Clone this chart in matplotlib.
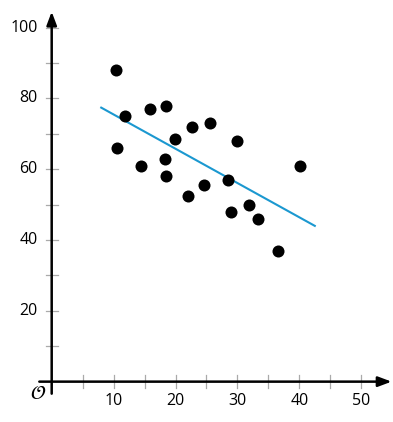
import matplotlib.pyplot as plt
import numpy as np

plt.rcParams['font.family'] = ['Open Sans', 'DejaVu Sans']

# data
x_vals = [10.4, 11.9, 10.5, 15.9, 18.4, 14.5, 18.3, 18.5, 19.9, 22.6,
          22.0, 25.6, 29.9, 40.1, 28.5, 24.6, 31.9, 29.0, 33.4, 36.6]
y_vals = [88.0, 75.0, 66.0, 77.0, 78.0, 61.0, 63.0, 58.0, 68.5, 72.0,
          52.5, 73.0, 68.0, 61.0, 57.0, 55.5, 50.0, 48.0, 46.0, 37.0]
fit_x = [8.0, 42.5]
fit_y = [77.4, 44.0]
x_ticks = [5, 10, 15, 20, 25, 30, 35, 40, 45, 50]
x_labels = [10, 20, 30, 40, 50]
y_ticks = [10, 20, 30, 40, 50, 60, 70, 80, 90, 100]
y_labels = [20, 40, 60, 80, 100]

fig = plt.figure(figsize=(3.93, 4.22), dpi=100)
ax = fig.add_axes([0, 0, 1, 1])
ax.set_xlim(-8.35, 55.13)
ax.set_ylim(-11.4, 107.8)
ax.axis('off')

tick_color = '#aaaaaa'
for t in x_ticks:
    ax.plot([t, t], [-1.7, 1.9], color=tick_color, lw=0.9, zorder=1)
for t in y_ticks:
    ax.plot([-1.0, 1.0], [t, t], color=tick_color, lw=0.9, zorder=1)

# axes with arrows
ax.annotate('', xy=(54.9, 0), xytext=(-2.0, 0),
            arrowprops=dict(arrowstyle='-|>,head_length=0.8,head_width=0.3',
                            color='black', lw=1.8, shrinkA=0, shrinkB=0))
ax.annotate('', xy=(0, 104.5), xytext=(0, -3.4),
            arrowprops=dict(arrowstyle='-|>,head_length=0.8,head_width=0.3',
                            color='black', lw=1.8, shrinkA=0, shrinkB=0))

for v in x_labels:
    ax.text(v, -3.2, str(v), ha='center', va='top', fontsize=11.5)
for v in y_labels:
    ax.text(-2.3, v, str(v), ha='right', va='center', fontsize=11.5)
ax.text(-0.8, -3.4, r'$\mathcal{O}$', ha='right', va='center', fontsize=14)

ax.plot(fit_x, fit_y, color='#1b98d0', lw=1.5, zorder=2)
ax.scatter(x_vals, y_vals, s=75, color='black', zorder=3, linewidths=0)

fig.savefig('out.png', dpi=100)
